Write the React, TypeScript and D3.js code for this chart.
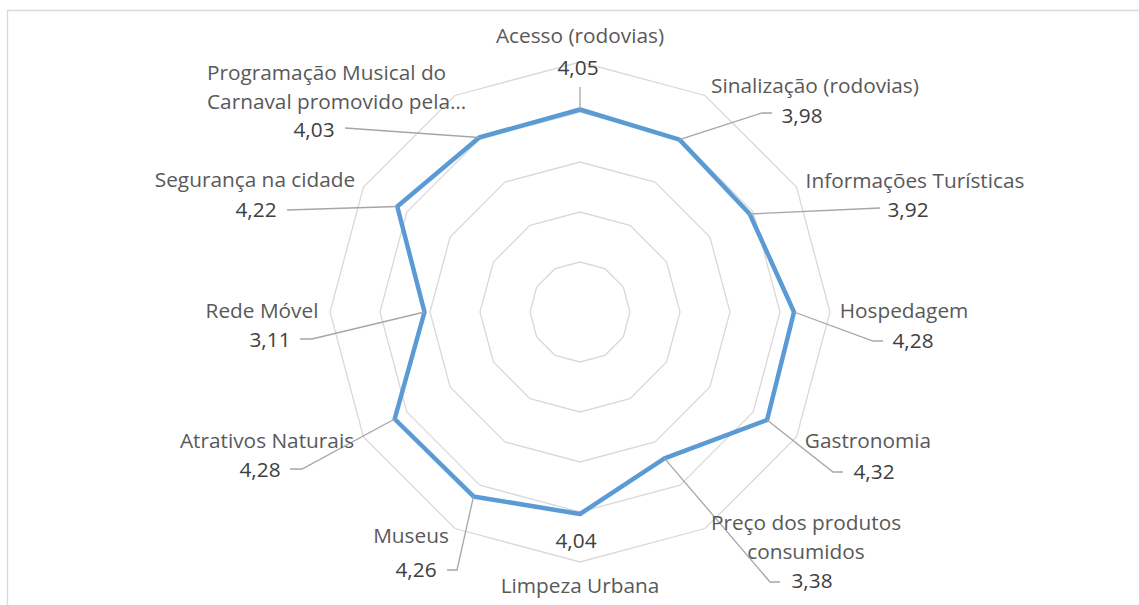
import React from 'react';
import * as d3 from 'd3';

// chart data
const categories = [
  'Acesso (rodovias)',
  'Sinalização (rodovias)',
  'Informações Turísticas',
  'Hospedagem',
  'Gastronomia',
  'Preço dos produtos consumidos',
  'Limpeza Urbana',
  'Museus',
  'Atrativos Naturais',
  'Rede Móvel',
  'Segurança na cidade',
  'Programação Musical do Carnaval promovido pela Prefeitura',
];
const values = [4.05, 3.98, 3.92, 4.28, 4.32, 3.38, 4.04, 4.26, 4.28, 3.11, 4.22, 4.03];
const ringTicks = [1, 2, 3, 4, 5];

// how the category names are shown (wrapped / cut like the original)
const shownNames = [
  ['Acesso (rodovias)'],
  ['Sinalização (rodovias)'],
  ['Informações Turísticas'],
  ['Hospedagem'],
  ['Gastronomia'],
  ['Preço dos produtos', 'consumidos'],
  ['Limpeza Urbana'],
  ['Museus'],
  ['Atrativos Naturais'],
  ['Rede Móvel'],
  ['Segurança na cidade'],
  ['Programação Musical do', 'Carnaval promovido pela…'],
];

// hand placed labels (x, baseline) + leader path ends
const labelLayout = [
  { nx: 580, ny: 43, vx: 578, vy: 75, leader: [[580, 87]] },
  { nx: 815, ny: 93, vx: 802, vy: 123, leader: [[762, 113], [772, 113]] },
  { nx: 915, ny: 188, vx: 908, vy: 217, leader: [[880, 208]] },
  { nx: 904, ny: 318, vx: 913, vy: 348, leader: [[873, 341], [883, 341]] },
  { nx: 868, ny: 448, vx: 874, vy: 479, leader: [[833, 472], [843, 472]] },
  { nx: 806, ny: 530, vx: 812, vy: 588, leader: [[770, 582], [780, 582]] },
  { nx: 580, ny: 593, vx: 576, vy: 548, leader: [] },
  { nx: 411, ny: 543, vx: 416, vy: 577, leader: [[457, 570], [447, 570]] },
  { nx: 267, ny: 448, vx: 260, vy: 477, leader: [[302, 469], [290, 469]] },
  { nx: 262, ny: 318, vx: 270, vy: 347, leader: [[312, 339], [300, 339]] },
  { nx: 255, ny: 187, vx: 256, vy: 217, leader: [[287, 210]] },
  { nx: 207, ny: 80, vx: 314, vy: 137, leader: [[345, 128]], anchor: 'start' },
];

const W = 1139;
const H = 605;
const cx = 580;
const cy = 312;
const font = '"Open Sans", Lato, sans-serif';
const fs = 20.8;

export default function App() {
  const r = d3.scaleLinear().domain([0, 5]).range([0, 250]);
  const angle = d3
    .scaleLinear()
    .domain([0, categories.length])
    .range([0, 2 * Math.PI]);
  const a = (c: string) => angle(categories.indexOf(c));

  const ring = (t: number) =>
    d3
      .lineRadial<string>()
      .angle((c) => a(c))
      .radius(() => r(t))
      .curve(d3.curveLinearClosed)(categories) as string;

  const series = d3
    .lineRadial<number>()
    .angle((_, i) => a(categories[i]))
    .radius((v) => r(v))
    .curve(d3.curveLinearClosed)(values) as string;

  const pt = (i: number): [number, number] => {
    const ang = a(categories[i]);
    const rr = r(values[i]);
    return [cx + rr * Math.sin(ang), cy - rr * Math.cos(ang)];
  };

  return (
    <div style={{ position: 'absolute', left: 0, top: 0 }}>
      <svg width={W} height={H} style={{ display: 'block', background: '#fff' }}>
        <path d={`M7.5,${H} V10.5 H${W}`} fill="none" stroke="#d9d9d9" strokeWidth={1.3} />
        <g transform={`translate(${cx},${cy})`}>
          {ringTicks.map((t) => (
            <path key={t} d={ring(t)} fill="none" stroke="#d9d9d9" strokeWidth={1.3} />
          ))}
          <path d={series} fill="none" stroke="#5b9bd5" strokeWidth={4.5} strokeLinejoin="round" />
        </g>
        {labelLayout.map((l, i) => {
          if (!l.leader.length) return null;
          const d = d3.line()([pt(i), ...(l.leader as [number, number][])]) as string;
          return <path key={'ld' + i} d={d} fill="none" stroke="#a6a6a6" strokeWidth={1.3} />;
        })}
        {labelLayout.map((l, i) => (
          <g key={'lb' + i} fontFamily={font}>
            <text x={l.nx} y={l.ny} fontSize={fs} fill="#595959" textAnchor={l.anchor || 'middle'}>
              {shownNames[i].map((s, j) => (
                <tspan key={j} x={l.nx} y={l.ny + j * 28.5}>
                  {s}
                </tspan>
              ))}
            </text>
            <text x={l.vx} y={l.vy} fontSize={fs} fill="#404040" textAnchor="middle">
              {d3.format('.2f')(values[i]).replace('.', ',')}
            </text>
          </g>
        ))}
      </svg>
    </div>
  );
}
